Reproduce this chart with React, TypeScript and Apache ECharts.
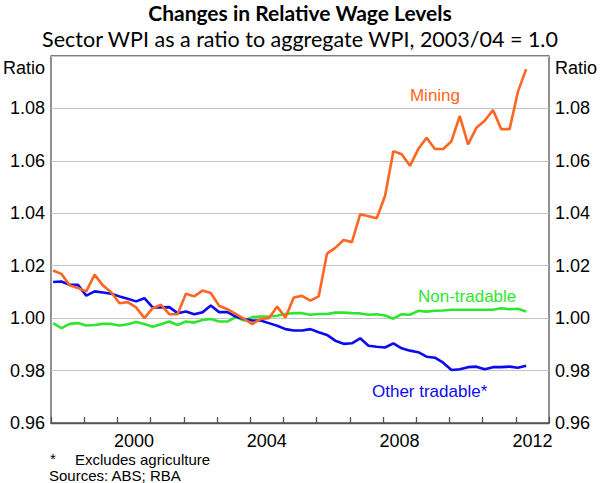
import React, { useEffect, useRef } from "react";
import * as echarts from "echarts";

const START_YEAR = 1998;
const END_YEAR = 2013;
const FIRST_POINT = 1998.0625;
const STEP = 0.25;

const mining = [
  1.0182, 1.0169, 1.0125, 1.0115, 1.0102, 1.0166, 1.0125, 1.0099, 1.0057, 1.0061,
  1.0041, 1.0000, 1.0038, 1.0051, 1.0015, 1.0015, 1.0093, 1.0083, 1.0105, 1.0096,
  1.0047, 1.0034, 1.0016, 0.9997, 0.9977, 0.9997, 1.0000, 1.0044, 1.0002, 1.0079,
  1.0085, 1.0067, 1.0083, 1.0246, 1.0268, 1.0298, 1.0290, 1.0396, 1.0389, 1.0381,
  1.0467, 1.0637, 1.0625, 1.0581, 1.0645, 1.0688, 1.0645, 1.0645, 1.0675, 1.0771,
  1.0663, 1.0726, 1.0753, 1.0794, 1.0721, 1.0721, 1.0863, 1.0950,
];

const otherTradable = [
  1.0138, 1.0140, 1.0127, 1.0127, 1.0086, 1.0102, 1.0098, 1.0093, 1.0083, 1.0074,
  1.0064, 1.0076, 1.0041, 1.0041, 1.0042, 1.0019, 1.0025, 1.0015, 1.0022, 1.0048,
  1.0023, 1.0023, 1.0006, 0.9997, 0.9991, 0.9991, 0.9981, 0.9971, 0.9958, 0.9953,
  0.9953, 0.9958, 0.9946, 0.9936, 0.9914, 0.9902, 0.9904, 0.9923, 0.9895, 0.9891,
  0.9888, 0.9904, 0.9885, 0.9876, 0.9870, 0.9853, 0.9849, 0.9830, 0.9802, 0.9805,
  0.9813, 0.9815, 0.9805, 0.9813, 0.9813, 0.9815, 0.9811, 0.9818,
];

const nonTradable = [
  0.9981, 0.9962, 0.9978, 0.9981, 0.9972, 0.9974, 0.9978, 0.9978, 0.9972, 0.9977,
  0.9985, 0.9978, 0.9967, 0.9977, 0.9987, 0.9974, 0.9987, 0.9983, 0.9993, 0.9997,
  0.9987, 0.9987, 1.0004, 0.9991, 1.0004, 1.0006, 1.0006, 1.0009, 1.0016, 1.0019,
  1.0019, 1.0013, 1.0016, 1.0016, 1.0021, 1.0021, 1.0019, 1.0018, 1.0013, 1.0015,
  1.0010, 0.9998, 1.0015, 1.0013, 1.0028, 1.0025, 1.0028, 1.0029, 1.0032, 1.0032,
  1.0032, 1.0032, 1.0032, 1.0032, 1.0038, 1.0034, 1.0036, 1.0025,
];

const xTickLabels = ["2000", "2004", "2008", "2012"];

const ORANGE = "#ff6621";
const GREEN = "#2ee62e";
const BLUE = "#0b0bee";
const AXIS_FONT = "'Liberation Sans', Arial, sans-serif";
const TITLE_FONT = "Lato, 'Open Sans', sans-serif";

const toPairs = (vals: number[]) => vals.map((v, i) => [FIRST_POINT + STEP * i, v]);

export default function App() {
  const ref = useRef<HTMLDivElement>(null);

  useEffect(() => {
    document.body.style.margin = "0";
    if (!ref.current) return;
    const chart = echarts.init(ref.current, undefined, { renderer: "svg" });

    const yLabel = {
      show: true,
      fontFamily: AXIS_FONT,
      fontSize: 18,
      color: "#000",
      margin: 6,
      showMaxLabel: false,
      formatter: (v: number) => v.toFixed(2),
    };

    const line = (name: string, data: number[], color: string) => ({
      name,
      type: "line",
      xAxisIndex: 0,
      yAxisIndex: 0,
      data: toPairs(data),
      showSymbol: false,
      symbol: "none",
      lineStyle: { color, width: 2.6 },
      itemStyle: { color },
      z: 3,
    });

    chart.setOption({
      animation: false,
      backgroundColor: "#fff",
      grid: {
        left: 51,
        right: 51,
        top: 56,
        bottom: 60,
        show: true,
        borderColor: "#555",
        borderWidth: 1.3,
        backgroundColor: "transparent",
      },
      xAxis: [
        {
          type: "value",
          min: START_YEAR,
          max: END_YEAR,
          interval: 1,
          axisLine: { show: true, lineStyle: { color: "#555", width: 1.3 } },
          axisTick: { show: true, inside: true, length: 6, lineStyle: { color: "#555", width: 1.3 } },
          axisLabel: { show: false },
          splitLine: { show: false },
        },
        {
          type: "value",
          position: "bottom",
          min: START_YEAR,
          max: END_YEAR,
          interval: 0.5,
          axisLine: { show: false },
          axisTick: { show: false },
          splitLine: { show: false },
          axisLabel: {
            show: true,
            fontFamily: AXIS_FONT,
            fontSize: 18,
            color: "#000",
            margin: 9,
            showMaxLabel: true,
            showMinLabel: true,
            formatter: (v: number) => {
              const y = Math.floor(v);
              if (Math.abs(v - y - 0.5) > 0.01) return "";
              const s = String(y);
              return xTickLabels.includes(s) ? s : "";
            },
          },
        },
      ],
      yAxis: [
        {
          type: "value",
          position: "left",
          min: 0.96,
          max: 1.1,
          interval: 0.02,
          axisLine: { show: false },
          axisTick: { show: false },
          axisLabel: yLabel,
          splitLine: { show: true, lineStyle: { color: "#c4c4c4", width: 1 } },
        },
        {
          type: "value",
          position: "right",
          min: 0.96,
          max: 1.1,
          interval: 0.02,
          axisLine: { show: false },
          axisTick: { show: false },
          axisLabel: yLabel,
          splitLine: { show: false },
        },
      ],
      series: [
        line("Non-tradable", nonTradable, GREEN),
        line("Other tradable*", otherTradable, BLUE),
        line("Mining", mining, ORANGE),
      ],
      graphic: [
        {
          type: "text",
          x: 300,
          y: 12,
          style: {
            text: "Changes in Relative Wage Levels",
            fontFamily: TITLE_FONT,
            fontWeight: "bold",
            fontSize: 21,
            lineHeight: 21,
            fill: "#000",
            align: "center",
            verticalAlign: "middle",
          },
        },
        {
          type: "text",
          x: 300,
          y: 39,
          style: {
            text: "Sector WPI as a ratio to aggregate WPI, 2003/04 = 1.0",
            fontFamily: TITLE_FONT,
            fontSize: 21.5,
            lineHeight: 22,
            fill: "#000",
            align: "center",
            verticalAlign: "middle",
          },
        },
        {
          type: "text",
          x: 45,
          y: 68,
          style: { text: "Ratio", fontFamily: AXIS_FONT, fontSize: 18, fill: "#000", align: "right", verticalAlign: "middle" },
        },
        {
          type: "text",
          x: 555,
          y: 68,
          style: { text: "Ratio", fontFamily: AXIS_FONT, fontSize: 18, fill: "#000", align: "left", verticalAlign: "middle" },
        },
        {
          type: "text",
          x: 435,
          y: 95,
          style: { text: "Mining", fontFamily: AXIS_FONT, fontSize: 17, fill: ORANGE, align: "center", verticalAlign: "middle" },
        },
        {
          type: "text",
          x: 418,
          y: 296,
          style: { text: "Non-tradable", fontFamily: AXIS_FONT, fontSize: 17, fill: GREEN, align: "left", verticalAlign: "middle" },
        },
        {
          type: "text",
          x: 372,
          y: 391,
          style: { text: "Other tradable*", fontFamily: AXIS_FONT, fontSize: 17, fill: BLUE, align: "left", verticalAlign: "middle" },
        },
        {
          type: "text",
          x: 50,
          y: 458,
          style: { text: "*", fontFamily: AXIS_FONT, fontSize: 15, fill: "#000", align: "left", verticalAlign: "middle" },
        },
        {
          type: "text",
          x: 75,
          y: 459,
          style: { text: "Excludes agriculture", fontFamily: AXIS_FONT, fontSize: 15, fill: "#000", align: "left", verticalAlign: "middle" },
        },
        {
          type: "text",
          x: 49,
          y: 475,
          style: { text: "Sources: ABS; RBA", fontFamily: AXIS_FONT, fontSize: 15, lineHeight: 15, fill: "#000", align: "left", verticalAlign: "middle" },
        },
      ],
    });

    return () => chart.dispose();
  }, []);

  return <div ref={ref} style={{ width: 600, height: 483 }} />;
}
